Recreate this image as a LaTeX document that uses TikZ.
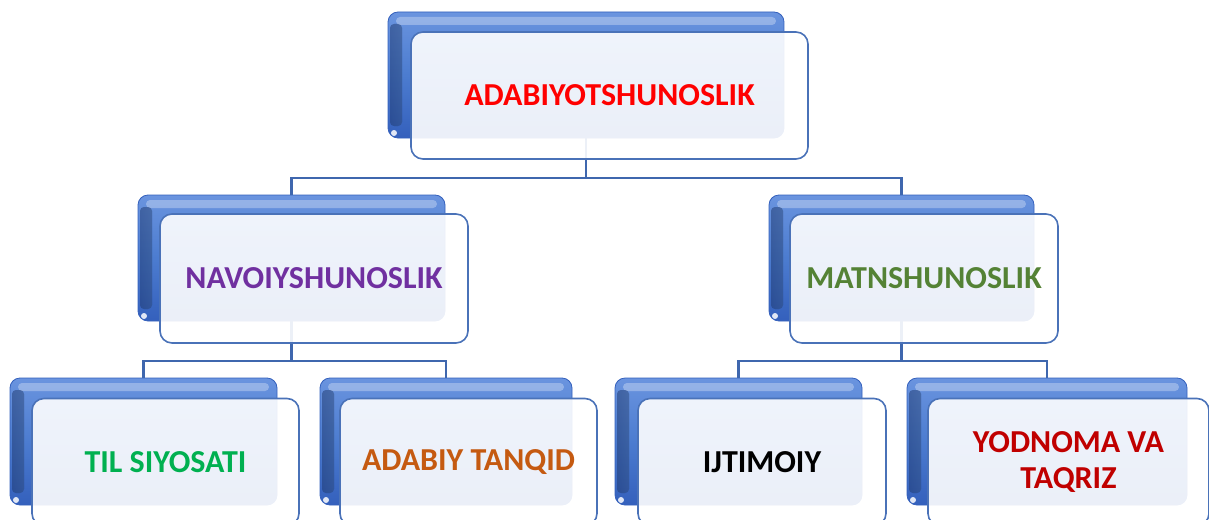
\documentclass[tikz,border=0pt]{standalone}
\usepackage{fontspec}
\setmainfont{Carlito}
\usetikzlibrary{calc}
\definecolor{conn}{HTML}{3F67AE}
\definecolor{bdark}{HTML}{3460BC}
\definecolor{bmid}{HTML}{4C7CD0}
\definecolor{blight}{HTML}{6A94DF}
\definecolor{fedge}{HTML}{4A72B8}
\definecolor{cpurple}{HTML}{7030A0}
\definecolor{cgreen}{HTML}{548235}
\definecolor{cbright}{HTML}{00B050}
\definecolor{corange}{HTML}{C55A11}
\definecolor{cdred}{HTML}{C00000}
\tikzset{
  backbox/.style={rectangle, rounded corners=10pt, inner sep=0pt, outer sep=0pt,
    draw=bdark, line width=0.8pt, top color=blight, bottom color=bdark, middle color=bmid},
  frontbox/.style={rectangle, rounded corners=12pt, inner sep=0pt, outer sep=0pt,
    draw=fedge, line width=1.6pt, fill=white, fill opacity=0.9, text opacity=1,
    font=\bfseries\fontsize{32}{36}\selectfont, align=center},
  connector/.style={draw=conn, line width=2.4pt},
}
\newcommand{\gloss}[1]{%
  \fill[white, opacity=0.3, rounded corners=4pt]
    ($(#1.north west)+(8,5)$) rectangle ($(#1.north east)+(-8,13)$);
  \fill[left color=bdark, right color=bmid, opacity=0.3, rounded corners=4pt]
    ($(#1.north west)+(2,12)$) rectangle ($(#1.south west)+(14,-12)$);
  \fill[white, opacity=0.85]
    ($(#1.south west)+(6,-5)$) circle (3pt);
}
\begin{document}
\begin{tikzpicture}[x=1pt,y=-1pt]
\useasboundingbox (0,0) rectangle (1209,519);
% back boxes
\node[backbox, minimum width=396pt, minimum height=126pt] (topb) at (586,75) {};
\node[backbox, minimum width=307pt, minimum height=126pt] (nvb) at (291.5,258) {};
\node[backbox, minimum width=265pt, minimum height=126pt] (mtb) at (901.5,258) {};
\node[backbox, minimum width=267pt, minimum height=127pt] (tlb) at (143.5,441.5) {};
\node[backbox, minimum width=252pt, minimum height=127pt] (atb) at (446,441.5) {};
\node[backbox, minimum width=247pt, minimum height=127pt] (ijb) at (738.5,441.5) {};
\node[backbox, minimum width=280pt, minimum height=127pt] (yob) at (1047,441.5) {};
\gloss{topb}\gloss{nvb}\gloss{mtb}\gloss{tlb}\gloss{atb}\gloss{ijb}\gloss{yob}
% connectors
\coordinate (h1) at (0,178);
\coordinate (h2) at (0,361);
\draw[connector] (topb.south) -- (topb.south |- h1) -| (nvb.north);
\draw[connector] (topb.south |- h1) -| (mtb.north);
\draw[connector] (nvb.south) -- (nvb.south |- h2) -| (tlb.north);
\draw[connector] (nvb.south |- h2) -| (atb.north);
\draw[connector] (mtb.south) -- (mtb.south |- h2) -| (ijb.north);
\draw[connector] (mtb.south |- h2) -| (yob.north);
% front boxes
\node[frontbox, minimum width=397pt, minimum height=127pt, text=red] (top) at (609.5,95.5) {ADABIYOTSHUNOSLIK};
\node[frontbox, minimum width=308pt, minimum height=129pt, text=cpurple] (nv) at (314,278.5) {NAVOIYSHUNOSLIK};
\node[frontbox, minimum width=268pt, minimum height=129pt, text=cgreen] (mt) at (924,278.5) {MATNSHUNOSLIK};
\node[frontbox, minimum width=267pt, minimum height=127pt, text=cbright] (tl) at (165.5,462) {TIL SIYOSATI};
\node[frontbox, minimum width=257pt, minimum height=127pt, text=corange] (at) at (468.5,462) {ADABIY TANQID};
\node[frontbox, minimum width=248pt, minimum height=127pt, text=black] (ij) at (762,462) {IJTIMOIY};
\node[frontbox, minimum width=281pt, minimum height=127pt, text=cdred] (yo) at (1068.5,462) {YODNOMA VA\\TAQRIZ};
\end{tikzpicture}
\end{document}
